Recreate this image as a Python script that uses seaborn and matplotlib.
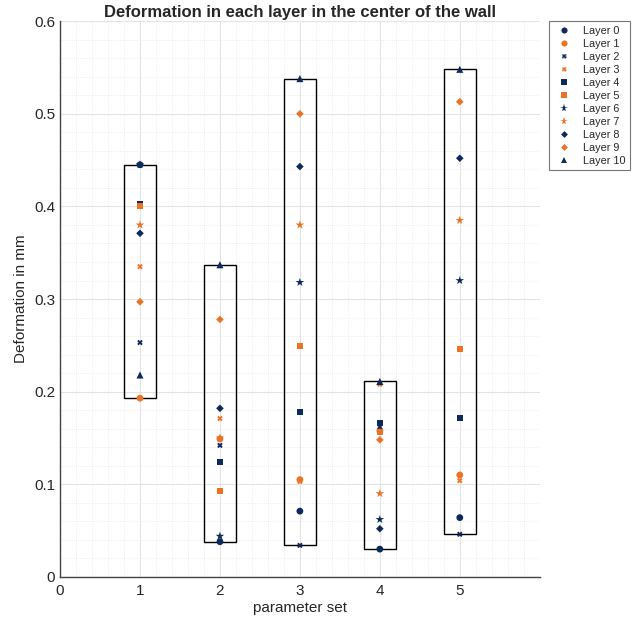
import matplotlib
matplotlib.use("Agg")
import matplotlib.pyplot as plt
from matplotlib.patches import Rectangle
from matplotlib.ticker import MultipleLocator
import pandas as pd
import seaborn as sns

param_sets = [1, 2, 3, 4, 5]
layer0 = [0.445, 0.038, 0.071, 0.030, 0.064]
layer1 = [0.193, 0.149, 0.105, 0.158, 0.110]
layer2 = [0.253, 0.142, 0.034, 0.162, 0.046]
layer3 = [0.335, 0.171, 0.103, 0.208, 0.104]
layer4 = [0.403, 0.124, 0.178, 0.166, 0.172]
layer5 = [0.400, 0.093, 0.249, 0.156, 0.246]
layer6 = [0.445, 0.044, 0.318, 0.062, 0.320]
layer7 = [0.380, 0.150, 0.380, 0.090, 0.385]
layer8 = [0.371, 0.182, 0.443, 0.052, 0.452]
layer9 = [0.297, 0.278, 0.500, 0.148, 0.513]
layer10 = [0.218, 0.337, 0.538, 0.211, 0.548]

layers = [layer0, layer1, layer2, layer3, layer4, layer5,
          layer6, layer7, layer8, layer9, layer10]
layer_names = [f"Layer {i}" for i in range(len(layers))]

navy = "#0d2a5c"
orange = "#ea7324"
palette = {name: (navy if i % 2 == 0 else orange) for i, name in enumerate(layer_names)}
marker_list = ["o", "o", "X", "X", "s", "s", "*", "*", "D", "D", "^"]
size_list = [24, 24, 16, 16, 18, 18, 42, 42, 15, 15, 26]
markers = dict(zip(layer_names, marker_list))
sizes = dict(zip(layer_names, size_list))

rows = []
for name, values in zip(layer_names, layers):
    for p, v in zip(param_sets, values):
        rows.append({"set": p, "value": v, "layer": name})
df = pd.DataFrame(rows)

sns.set_style("white")
plt.rcParams["font.family"] = ["Liberation Sans", "DejaVu Sans"]

fig = plt.figure(figsize=(6.32, 6.23), dpi=100)
ax = fig.add_axes([0.095, 0.074, 0.759, 0.892])

# boxes from min to max of each parameter set
for p, g in df.groupby("set"):
    lo, hi = g["value"].min(), g["value"].max()
    ax.add_patch(Rectangle((p - 0.2, lo), 0.4, hi - lo, fill=False,
                           edgecolor="black", linewidth=1.0, zorder=2))

sns.scatterplot(data=df, x="set", y="value", hue="layer", style="layer",
                size="layer", sizes=sizes, palette=palette, markers=markers,
                edgecolor="none", linewidth=0, ax=ax, zorder=3)

ax.set_xlim(0, 6)
ax.set_ylim(0, 0.6)
ax.set_xticks([0, 1, 2, 3, 4, 5])
ax.set_yticks([0, 0.1, 0.2, 0.3, 0.4, 0.5, 0.6])
ax.set_yticklabels(["0", "0.1", "0.2", "0.3", "0.4", "0.5", "0.6"])
ax.xaxis.set_minor_locator(MultipleLocator(0.2))
ax.yaxis.set_minor_locator(MultipleLocator(0.02))
ax.grid(True, which="major", color="#e3e3e3", linewidth=0.8)
ax.grid(True, which="minor", color="#e8e8e8", linewidth=0.6, linestyle=":")
ax.set_axisbelow(True)
ax.tick_params(axis="both", which="major", labelsize=11, direction="in",
               length=4, color="#444444", labelcolor="#262626")
ax.tick_params(axis="x", which="major", pad=5)
ax.tick_params(axis="both", which="minor", length=0)
for side in ["top", "right"]:
    ax.spines[side].set_visible(False)
for side in ["left", "bottom"]:
    ax.spines[side].set_color("#444444")
    ax.spines[side].set_linewidth(1.0)

ax.set_xlabel("parameter set", fontsize=11, color="#262626", labelpad=2)
ax.set_ylabel("Deformation in mm", fontsize=11, color="#262626")
ax.set_title("Deformation in each layer in the center of the wall",
             fontsize=12, fontweight="bold", pad=3)

leg = ax.legend(loc="upper left", bbox_to_anchor=(1.02, 1.0), fontsize=7.8,
                frameon=True, fancybox=False, edgecolor="#555555",
                borderaxespad=0, handletextpad=0.7, labelspacing=0.28,
                markerscale=0.9)
leg.get_frame().set_linewidth(0.8)

fig.savefig("out.png", dpi=100)
